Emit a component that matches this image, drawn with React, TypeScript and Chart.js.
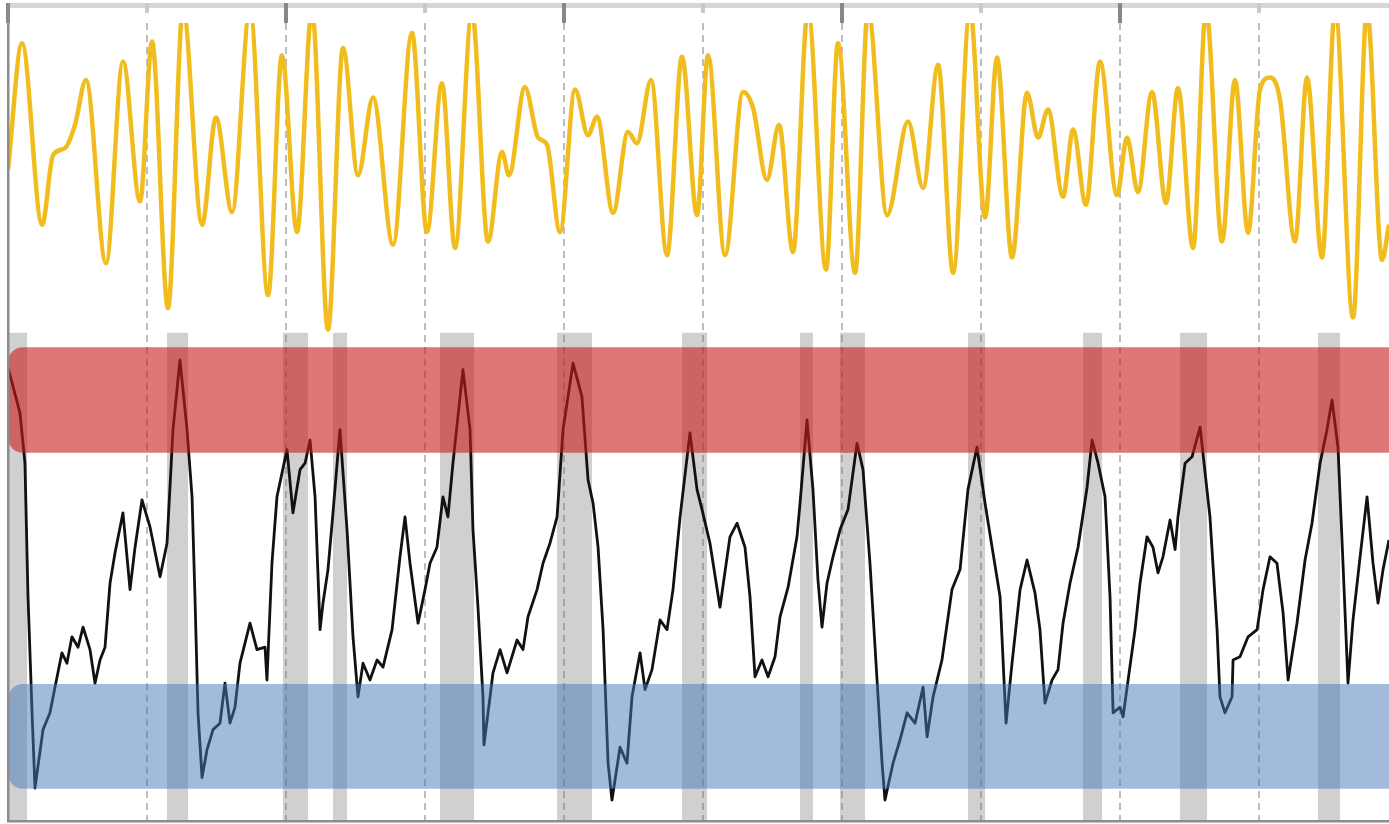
import React, { useEffect, useRef } from "react";
import { Chart, registerables } from "chart.js";

Chart.register(...registerables);

// ---- data (x: time units, 10 per grid step; y: shared value axis) ----
const yellowX = [0,1.01,2.45,3.24,4.10,4.82,5.61,7.05,8.27,9.50,10.36,11.51,12.59,13.96,14.96,16.12,17.41,18.71,19.71,20.79,21.87,23.02,24.10,25.18,26.26,27.70,29.06,30.14,31.22,32.16,33.38,34.53,35.54,36.04,37.19,38.13,38.78,39.71,40.79,41.73,42.37,43.53,44.60,45.25,46.26,47.41,48.49,49.57,50.36,51.58,52.88,53.60,54.60,55.47,56.47,57.55,58.85,59.71,60.94,61.87,63.24,64.75,65.83,66.91,67.99,69.21,70.29,71.15,72.23,73.31,74.10,74.82,75.90,76.62,77.55,78.56,79.78,80.50,81.29,82.30,83.31,84.17,85.25,86.19,87.34,88.27,89.21,90.07,90.79,91.51,92.59,93.45,94.53,95.47,96.76,97.77,98.85,99.35];
const yellowY = [81.3,97.1,74.4,83.1,84.0,86.9,92.5,69.6,94.8,77.3,97.3,64.0,101.3,74.4,87.8,76.0,101.3,65.6,95.6,73.5,101.3,61.3,96.5,80.6,90.3,71.9,98.4,73.5,92.1,71.5,101.0,72.3,83.5,80.6,91.6,85.3,84.4,73.5,91.3,85.6,87.9,75.9,86.0,84.6,92.5,70.6,95.4,75.6,95.6,70.6,91.0,89.0,80.0,86.9,71.0,101.3,68.8,97.1,68.4,101.3,75.6,87.3,79.0,94.4,68.4,101.3,75.3,95.3,70.3,90.9,85.3,88.8,77.9,86.3,76.9,94.8,78.1,85.3,78.5,91.0,77.1,91.5,71.5,101.3,72.3,92.5,73.4,91.3,92.8,90.0,72.3,92.8,70.3,101.3,62.8,101.3,70.0,74.4];

const blackX = [0,0.86,1.22,1.44,1.73,1.94,2.52,3.02,3.38,3.88,4.24,4.60,5.04,5.40,5.90,6.26,6.62,6.98,7.34,7.70,8.27,8.78,9.14,9.64,10.22,10.94,11.44,11.87,12.37,12.88,13.24,13.45,13.67,13.96,14.32,14.75,15.25,15.61,15.97,16.33,16.69,17.41,17.91,18.49,18.63,18.99,19.35,20.07,20.50,21.01,21.37,21.73,22.09,22.45,22.66,23.02,23.38,23.88,24.39,24.82,25.18,25.54,26.04,26.55,26.98,27.63,28.20,28.56,28.92,29.50,30.00,30.36,30.86,31.29,31.65,32.01,32.52,32.73,33.24,33.45,33.81,34.17,34.24,34.68,34.89,35.40,35.90,36.62,37.05,37.41,38.06,38.49,38.99,39.50,39.93,40.65,41.29,41.73,42.09,42.45,42.81,43.17,43.45,44.03,44.53,44.89,45.47,45.83,46.33,46.91,47.41,47.84,48.35,49.06,49.57,49.93,50.50,51.22,51.94,52.45,53.02,53.38,53.74,54.24,54.68,55.18,55.54,56.12,56.76,56.98,57.48,57.91,58.27,58.56,58.92,59.35,59.86,60.43,61.08,61.51,62.01,62.52,62.88,63.09,63.67,64.17,64.68,65.25,65.83,66.12,66.55,67.19,67.91,68.49,69.06,69.71,70.29,70.86,71.37,71.80,72.23,72.81,73.31,73.88,74.24,74.60,75.11,75.54,75.90,76.40,76.98,77.63,77.99,78.42,78.92,79.28,79.50,80.00,80.22,80.58,81.08,81.44,81.94,82.37,82.73,83.09,83.60,83.96,84.17,84.68,85.18,85.76,86.12,86.47,86.98,87.19,87.55,88.06,88.13,88.63,89.21,89.86,90.29,90.79,91.29,91.73,92.09,92.73,93.31,93.81,94.39,94.89,95.25,95.68,96.04,96.40,96.76,97.27,97.77,98.20,98.56,98.92,99.35];
const blackY = [56.6,50.9,44.6,27.9,13.4,4.0,11.3,13.4,16.6,20.9,19.6,22.9,21.6,24.1,21.3,17.1,20.0,21.6,29.6,33.4,38.4,28.8,34.1,40.0,36.6,30.4,34.6,48.8,57.5,48.8,40.4,27.9,13.4,5.3,8.8,11.3,12.1,17.1,12.1,14.1,19.6,24.6,21.3,21.6,17.5,32.1,40.4,46.3,38.4,43.8,44.6,47.5,40.4,23.8,27.1,31.3,38.4,48.8,36.3,22.9,15.4,19.6,17.5,20.0,19.1,23.8,32.9,37.9,32.1,24.6,28.8,32.1,34.1,40.4,37.9,44.6,52.9,56.3,48.8,36.3,26.6,15.4,9.4,15.4,18.4,21.3,18.4,22.5,21.3,25.4,28.8,32.1,34.6,37.9,48.8,57.1,52.9,42.5,39.6,34.1,23.8,7.1,2.5,9.1,7.1,15.4,20.9,16.3,18.8,25.0,23.8,28.8,37.9,48.4,41.3,38.8,34.6,26.6,35.4,37.1,34.1,27.9,17.9,20.0,17.9,20.4,25.4,29.1,35.4,39.6,50.0,41.3,30.0,24.1,29.6,32.9,36.3,38.8,47.1,43.8,32.1,17.5,7.1,2.5,7.1,10.0,13.4,12.1,16.6,10.4,15.4,20.0,28.8,31.3,41.3,46.6,39.6,33.4,27.9,12.1,19.6,28.8,32.5,28.4,23.8,14.6,17.5,18.8,24.6,29.6,34.1,41.6,47.5,44.6,40.4,27.9,13.4,14.1,12.9,17.5,23.8,29.6,35.4,34.1,30.9,32.9,37.5,33.8,37.9,44.6,45.4,49.1,43.4,37.9,23.8,15.4,13.4,15.4,20.0,20.4,22.9,23.8,28.8,32.9,32.1,25.9,17.5,24.6,32.5,37.1,44.6,48.8,52.5,46.6,32.1,17.1,25.0,32.9,40.4,32.1,27.1,31.3,35.0];

const gridTicks = [0, 10, 20, 30, 40, 50, 60, 70, 80, 90];
const majorTicks = [0, 20, 40, 60, 80];

const shadeStart = [0, 11.44, 19.78, 23.38, 31.08, 39.5, 48.49, 56.98, 59.86, 69.06, 77.34, 84.32, 94.24];
const shadeEnd = [1.37, 12.95, 21.58, 24.39, 33.53, 42.01, 50.29, 57.91, 61.65, 70.29, 78.71, 86.26, 95.83];
const shadeTop = 60.9;

const redBand = [45.9, 59.1];
const blueBand = [3.9, 17.0];

const X_MAX = 99.35;
const Y_MAX = 99.625;

const decorPlugin = {
  id: "decor",
  beforeDatasetsDraw(chart: any) {
    const { ctx, chartArea: ca, scales } = chart;
    const x = scales.x;
    const y = scales.y;
    ctx.save();
    // grey shaded intervals
    ctx.fillStyle = "rgb(208,208,208)";
    const top = y.getPixelForValue(shadeTop);
    shadeStart.forEach((s: number, i: number) => {
      const x0 = x.getPixelForValue(s);
      const x1 = x.getPixelForValue(shadeEnd[i]);
      ctx.fillRect(x0, top, x1 - x0, ca.bottom - top);
    });
    // dashed vertical grid
    ctx.strokeStyle = "rgba(120,120,120,0.65)";
    ctx.lineWidth = 1.5;
    ctx.setLineDash([7, 5]);
    gridTicks.forEach((t) => {
      if (t === 0) return;
      const px = Math.round(x.getPixelForValue(t));
      ctx.beginPath();
      ctx.moveTo(px, ca.top);
      ctx.lineTo(px, ca.bottom);
      ctx.stroke();
    });
    ctx.restore();
  },
  afterDatasetsDraw(chart: any) {
    const { ctx, chartArea: ca, scales, width } = chart;
    const x = scales.x;
    const y = scales.y;
    ctx.save();
    const drawBand = (band: number[], color: string) => {
      const t = y.getPixelForValue(band[1]);
      const b = y.getPixelForValue(band[0]);
      const l = x.getPixelForValue(0);
      ctx.fillStyle = color;
      ctx.beginPath();
      (ctx as any).roundRect(l, t, width - l + 30, b - t, 15);
      ctx.fill();
    };
    drawBand(redBand, "rgba(200,30,30,0.6)");
    drawBand(blueBand, "rgba(70,120,185,0.5)");

    // frame: top bar
    const topBarY = ca.top - 20;
    ctx.fillStyle = "rgb(214,214,214)";
    ctx.fillRect(ca.left, topBarY, width - ca.left, 5);
    // top ticks
    gridTicks.forEach((t) => {
      const px = Math.round(x.getPixelForValue(t));
      const major = majorTicks.indexOf(t) >= 0;
      ctx.fillStyle = major ? "rgb(135,135,135)" : "rgb(200,200,200)";
      ctx.fillRect(px - 2, topBarY, 4, major ? 20 : 10);
    });
    // left border
    ctx.fillStyle = "rgb(140,140,140)";
    ctx.fillRect(ca.left - 1, topBarY, 2.5, ca.bottom - topBarY + 2);
    // bottom border
    ctx.fillStyle = "rgb(140,140,140)";
    ctx.fillRect(ca.left - 1, ca.bottom, width - ca.left + 1, 2.5);
    ctx.restore();
  },
};

export default function App() {
  const ref = useRef<HTMLCanvasElement | null>(null);
  useEffect(() => {
    if (!ref.current) return;
    const chart = new Chart(ref.current, {
      type: "line",
      data: {
        datasets: [
          {
            label: "signal",
            data: yellowX.map((v, i) => ({ x: v, y: yellowY[i] })),
            borderColor: "#F1BC1E",
            borderWidth: 4.5,
            pointRadius: 0,
            cubicInterpolationMode: "monotone",
            fill: false,
            clip: 0,
          },
          {
            label: "oscillator",
            data: blackX.map((v, i) => ({ x: v, y: blackY[i] })),
            borderColor: "#111111",
            borderWidth: 2.8,
            borderJoinStyle: "round",
            pointRadius: 0,
            tension: 0,
            fill: false,
            clip: 0,
          },
        ],
      },
      options: {
        responsive: false,
        animation: false,
        devicePixelRatio: 1,
        layout: { padding: { left: 8, right: 0, top: 23, bottom: 4 } },
        plugins: { legend: { display: false }, tooltip: { enabled: false } },
        scales: {
          x: { type: "linear", min: 0, max: X_MAX, display: false },
          y: { type: "linear", min: 0, max: Y_MAX, display: false },
        },
      },
      plugins: [decorPlugin],
    } as any);
    return () => chart.destroy();
  }, []);
  return (
    <div style={{ position: "absolute", left: 0, top: 0, width: 1389, height: 824, background: "#fff" }}>
      <canvas ref={ref} width={1389} height={824} />
    </div>
  );
}
